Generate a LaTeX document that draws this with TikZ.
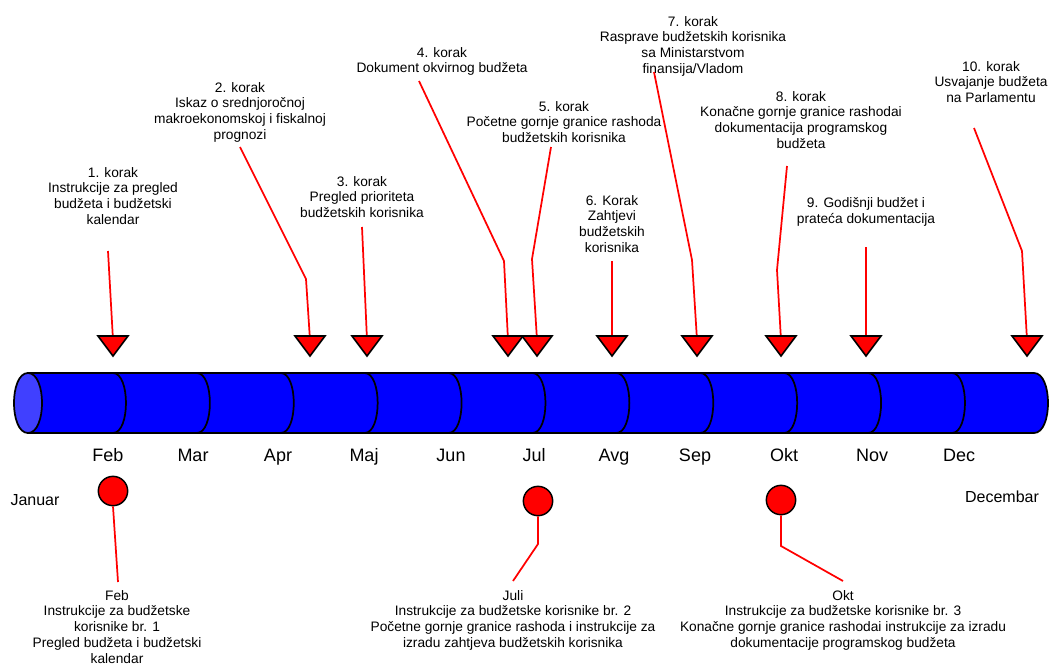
\documentclass[tikz,border=0pt]{standalone}
\usepackage{fontspec}
\setmainfont{Liberation Sans}
\definecolor{capblue}{RGB}{64,64,255}
\begin{document}
\begin{tikzpicture}[x=0.75pt,y=-0.75pt,
  lbl/.style={align=center, inner sep=0pt, anchor=north, font=\fontsize{10.3}{11.8}\selectfont},
  month/.style={inner sep=0pt, anchor=base, font=\fontsize{13.5}{16}\selectfont},
  endlbl/.style={inner sep=0pt, anchor=base, font=\fontsize{12}{14}\selectfont},
  edge/.style={draw=red, line width=1.3pt},
  marker/.style={draw=black, fill=red, line width=1.2pt, line join=miter},
  dot/.style={circle, draw=black, fill=red, line width=1.1pt, minimum size=22pt, inner sep=0pt},
  cyl/.style={draw=black, line width=1.3pt}]
\useasboundingbox (0,0) rectangle (1049,665);

% cylinder
\path[cyl, fill=blue] (28,373) -- (1034,373) .. controls (1052.7,373) and (1052.7,433) .. (1034,433) -- (28,433) -- cycle;
\foreach \s in {0,...,10}
  \draw[cyl] (113+83.9*\s,373) .. controls +(17.3,0) and +(17.3,0) .. (113+83.9*\s,433);
\path[cyl, fill=capblue] (28,373) .. controls (46.7,373) and (46.7,433) .. (28,433) .. controls (9.3,433) and (9.3,373) .. (28,373) -- cycle;

% month labels
\foreach \m/\x in {Feb/108,Mar/193,Apr/278,Maj/364,Jun/451,Jul/534,Avg/614,Sep/695,Okt/784,Nov/872,Dec/959}
  \node[month] (m\m) at (\x,461) {\m};
\node[endlbl] (jan) at (35,505) {Januar};
\node[endlbl] (decb) at (1002,502) {Decembar};

% top labels
\node[lbl] (T1) at (113,167) {1. korak\\Instrukcije za pregled\\budžeta i budžetski\\kalendar};
\node[lbl] (T2) at (240,82) {2. korak\\Iskaz o srednjoročnoj\\makroekonomskoj i fiskalnoj\\prognozi};
\node[lbl] (T3) at (362,176) {3. korak\\Pregled prioriteta\\budžetskih korisnika};
\node[lbl] (T4) at (442,47) {4. korak\\Dokument okvirnog budžeta};
\node[lbl] (T5) at (564,101) {5. korak\\Početne gornje granice rashoda\\budžetskih korisnika};
\node[lbl] (T6) at (612,195) {6. Korak\\Zahtjevi\\budžetskih\\korisnika};
\node[lbl] (T7) at (693,16) {7. korak\\Rasprave budžetskih korisnika\\sa Ministarstvom\\finansija/Vladom};
\node[lbl] (T8) at (801,91) {8. korak\\Konačne gornje granice rashodai\\dokumentacija programskog\\budžeta};
\node[lbl] (T9) at (866,197) {9. Godišnji budžet i\\prateća dokumentacija};
\node[lbl] (T10) at (991,61) {10. korak\\Usvajanje budžeta\\na Parlamentu};

% connector start points (below the labels)
\coordinate (s1) at (108,251);
\coordinate (s2) at (240,147);
\coordinate (s3) at (362,227);
\coordinate (s4) at (419,81);
\coordinate (s5) at (551,147);
\coordinate (s6) at (612,261);
\coordinate (s7) at (654,72);
\coordinate (s8) at (787,166);
\coordinate (s9) at (866,247);
\coordinate (s10) at (974,128);

% triangle marker tips
\foreach \i/\x in {1/113,2/310,3/367,4/508,5/537,6/612,7/697,8/781,9/866,10/1027}
  \coordinate (t\i) at (\x,340);

% connectors
\draw[edge] (s1) -- (t1);
\draw[edge] (s2) -- (306,279) -- (t2);
\draw[edge] (s3) -- (t3);
\draw[edge] (s4) -- (504,261) -- (t4);
\draw[edge] (s5) -- (532,259) -- (t5);
\draw[edge] (s6) -- (t6);
\draw[edge] (s7) -- (692,260) -- (t7);
\draw[edge] (s8) -- (777,270) -- (t8);
\draw[edge] (s9) -- (t9);
\draw[edge] (s10) -- (1022,251) -- (t10);

% triangles
\foreach \x in {113,310,367,508,537,612,697,781,866,1027}
  \path[marker] (\x-15,336) -- (\x+15,336) -- (\x,356) -- cycle;

% bottom labels
\node[lbl] (B1) at (117,590) {Feb\\Instrukcije za budžetske\\korisnike br. 1\\Pregled budžeta i budžetski\\kalendar};
\node[lbl] (B2) at (513,590) {Juli\\Instrukcije za budžetske korisnike br. 2\\Početne gornje granice rashoda i instrukcije za\\izradu zahtjeva budžetskih korisnika};
\node[lbl] (B3) at (843,590) {Okt\\Instrukcije za budžetske korisnike br. 3\\Konačne gornje granice rashodai instrukcije za izradu\\dokumentacije programskog budžeta};

\coordinate (b1) at (118,582);
\coordinate (b2) at (513,581);
\coordinate (b3) at (843,581);

% circles and connectors
\node[dot] (C1) at (113,491) {};
\node[dot] (C2) at (538,501) {};
\node[dot] (C3) at (781,500) {};
\draw[edge] (C1.south) -- (b1);
\draw[edge] (C2.south) -- (538,544) -- (b2);
\draw[edge] (C3.south) -- (781,546) -- (b3);
\end{tikzpicture}
\end{document}
